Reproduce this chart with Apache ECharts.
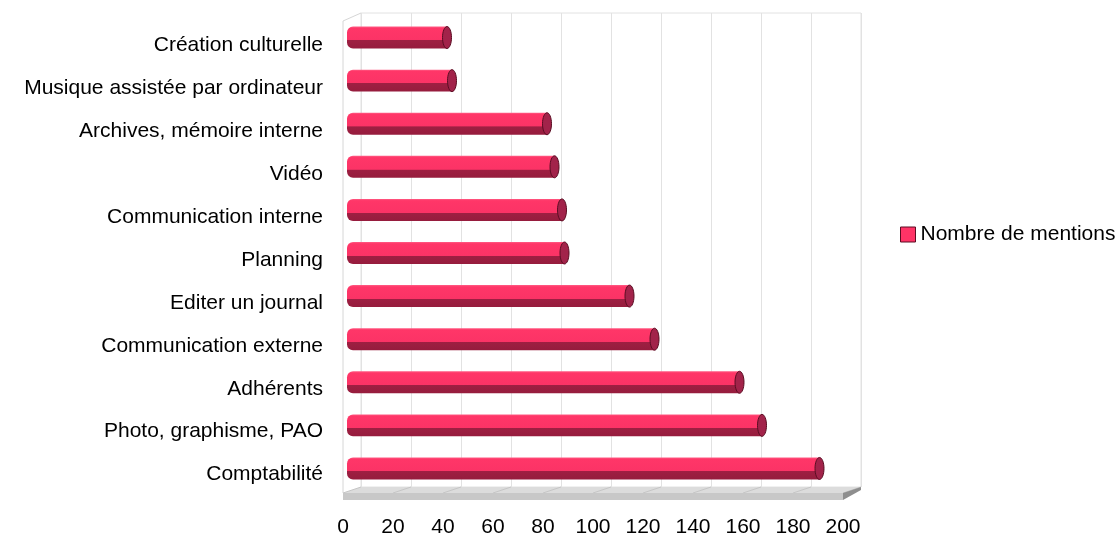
<!DOCTYPE html>
<html><head><meta charset="utf-8">
<script src="https://cdn.jsdelivr.net/npm/echarts@6/dist/echarts.min.js"></script>
<style>html,body{margin:0;padding:0;background:#fff}#c{width:1115px;height:538px}</style>
</head><body><div id="c"></div>
<script>
const categories = ['Création culturelle','Musique assistée par ordinateur','Archives, mémoire interne','Vidéo','Communication interne','Planning','Editer un journal','Communication externe','Adhérents','Photo, graphisme, PAO','Comptabilité'];
const mentions = [38, 40, 78, 81, 84, 85, 111, 121, 155, 164, 187];
const seriesName = 'Nombre de mentions';
const xMin = 0, xMax = 200, xStep = 20;

const FONT = 'Liberation Sans';
const DX = 18, DY = 6; // 3D depth offset (back -> front)

function renderFrame(params, api) {
  const n = categories.length;
  const b0 = api.coord([xMin, n - 1]);
  const b1 = api.coord([xMax, n - 1]);
  const t0 = api.coord([xMin, 0]);
  const band = api.size([0, 1])[1];
  const yb = b0[1] + band / 2;       // back floor edge
  const yt = t0[1] - band / 2;       // back top edge
  const xl = b0[0], xr = b1[0];
  const yf = yb + DY;                // front floor edge
  const children = [];
  children.push({type:'polyline', shape:{points:[[xl - DX, yf],[xl - DX, yt + 8],[xl, yt]]}, style:{stroke:'#d6d6d6', lineWidth:1, fill:null}});
  children.push({type:'polygon', shape:{points:[[xl, yb],[xr, yb],[xr - DX, yf],[xl - DX, yf]]}, style:{fill:'#dcdcdc'}});
  for (let v = xMin; v <= xMax; v += xStep) {
    const p = api.coord([v, n - 1]);
    children.push({type:'line', shape:{x1:p[0], y1:yb, x2:p[0] - DX, y2:yf}, style:{stroke:'#c6c6c6', lineWidth:1}});
  }
  children.push({type:'rect', shape:{x:xl - DX, y:yf, width:xr - xl, height:7}, style:{fill:'#c8c8c8'}});
  children.push({type:'polygon', shape:{points:[[xr - DX, yf],[xr, yb],[xr, yb + 3],[xr - DX, yf + 7]]}, style:{fill:'#8e8e8e'}});
  return {type:'group', children};
}

function renderBar(params, api) {
  const i = api.value(1), v = api.value(0);
  const s = api.coord([0, i]);
  const e = api.coord([v, i]);
  const h = api.size([0, 1])[1] * 0.51;
  const top = s[1] - h / 2;
  const grad = {type:'linear', x:0, y:0, x2:0, y2:1, colorStops:[
    {offset:0, color:'#ff5c84'}, {offset:0.08, color:'#ff3668'}, {offset:0.62, color:'#fb3366'},
    {offset:0.63, color:'#9e1f42'}, {offset:1, color:'#961c3d'}]};
  return {type:'group', children:[
    {type:'rect', shape:{x:s[0] - 5, y:top, width:e[0] - s[0] + 5, height:h, r:[6,0,0,6]}, style:{fill:grad}},
    {type:'ellipse', shape:{cx:e[0], cy:s[1], rx:4.5, ry:h / 2}, style:{fill:'#a2234a', stroke:'#5a0d22', lineWidth:1}}
  ]};
}

const chart = echarts.init(document.getElementById('c'), null, {renderer:'canvas'});
chart.setOption({
  animation:false,
  backgroundColor:'#ffffff',
  textStyle:{fontFamily:FONT},
  legend:{
    data:[{name:seriesName, icon:'rect'}],
    left:895, top:219, itemWidth:15, itemHeight:15,
    itemStyle:{color:'#ff3366', borderColor:'#5a0d22', borderWidth:1},
    textStyle:{fontFamily:FONT, fontSize:21, color:'#000'}
  },
  grid:[
    {left:361, top:13, width:500, height:474, show:true, borderColor:'#e2e2e2', borderWidth:1, backgroundColor:'transparent'},
    {left:343, top:24, width:500, height:474},
    {left:352, top:16, width:500, height:474}
  ],
  xAxis:[
    {gridIndex:0, type:'value', min:xMin, max:xMax, interval:xStep, axisLabel:{show:false}, axisLine:{show:false}, axisTick:{show:false},
     splitLine:{show:true, lineStyle:{color:'#e2e2e2', width:1}}},
    {gridIndex:1, type:'value', min:xMin, max:xMax, interval:xStep, axisLine:{show:false}, axisTick:{show:false}, splitLine:{show:false},
     axisLabel:{show:true, margin:21, fontFamily:FONT, fontSize:21, color:'#000'}},
    {gridIndex:2, type:'value', min:xMin, max:xMax, interval:xStep, show:false}
  ],
  yAxis:[
    {gridIndex:0, type:'category', data:categories, inverse:true, show:false},
    {gridIndex:1, type:'category', data:categories, inverse:true, axisLine:{show:false}, axisTick:{show:false},
     axisLabel:{margin:20, fontFamily:FONT, fontSize:21, color:'#000'}},
    {gridIndex:2, type:'category', data:categories, inverse:true, show:false}
  ],
  series:[
    {type:'custom', name:'frame', xAxisIndex:0, yAxisIndex:0, data:[[0, 0]], renderItem:renderFrame, silent:true, z:1},
    {type:'custom', name:seriesName, xAxisIndex:2, yAxisIndex:2, z:5,
     itemStyle:{color:'#ff3366'},
     data:mentions.map((v, i) => [v, i]), renderItem:renderBar, encode:{x:0, y:1}}
  ]
});
</script></body></html>
